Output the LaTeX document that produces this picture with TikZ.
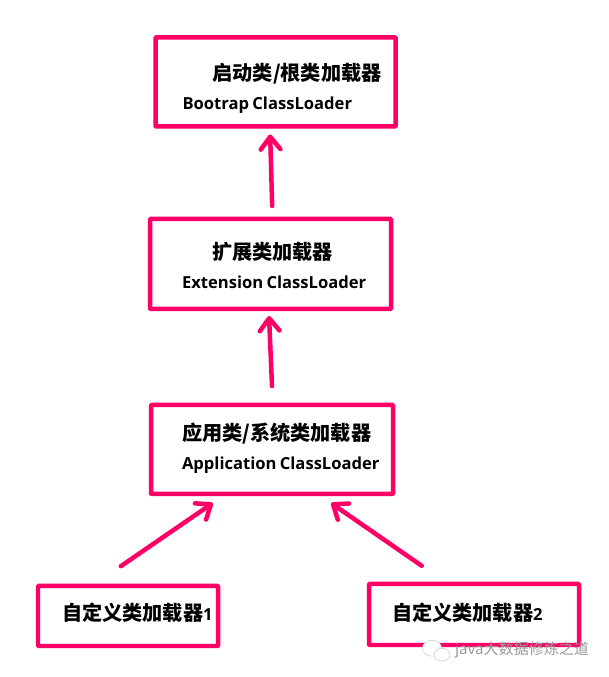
\documentclass[tikz,border=0pt]{standalone}
\usepackage{fontspec}
\setmainfont{Open Sans}
\newfontfamily\cjk{Noto Sans CJK SC}
\usepackage{tikz}
\usetikzlibrary{arrows.meta, shapes.geometric}
\definecolor{hotpink}{HTML}{FF0066}
\tikzset{
    loaderbox/.style={draw=hotpink, line width=3.2pt, rounded corners=0.6pt, inner sep=0pt, outer sep=0pt, align=left},
    flowarrow/.style={draw=hotpink, line width=3.2pt, line cap=round, -{Straight Barb[length=9pt, width=14pt, round]}},
    cntext/.style={font=\cjk\bfseries\fontsize{14.35}{20.6}\selectfont},
}
\newcommand{\enlabel}[1]{{\normalfont\bfseries\fontsize{11.8}{20.6}\selectfont\spaceskip=0.2em\relax #1}}
\begin{document}
\begin{tikzpicture}
    \useasboundingbox (0, 0) rectangle (15.2, 16.925);

    \node[loaderbox, cntext, text width=6cm, text height=1.075cm, text depth=1.15cm] at (6.888, 14.875) (bootbox)
        {\hspace*{1.425cm}启动类/根类加载器\\\hspace*{0.675cm}\enlabel{Bootrap ClassLoader}};
    \node[loaderbox, cntext, text width=6.025cm, text height=1.025cm, text depth=1.225cm] at (6.763, 10.325) (extbox)
        {\hspace*{1.55cm}扩展类加载器\\\hspace*{0.8cm}\enlabel{Extension ClassLoader}};
    \node[loaderbox, cntext, text width=6.05cm, text height=0.9cm, text depth=1.325cm] at (6.8, 5.6875) (appbox)
        {\hspace*{0.775cm}应用类/系统类加载器\\\hspace*{0.775cm}\enlabel{Application ClassLoader}};
    \node[loaderbox, cntext, text width=4.5cm, text height=0.875cm, text depth=0.625cm] at (3.2, 1.525) (custombox1)
        {\hspace*{0.6cm}自定义类加载器\enlabel{1}};
    \node[loaderbox, cntext, text width=5.25cm, text height=0.925cm, text depth=0.6cm] at (11.85, 1.5625) (custombox2)
        {\hspace*{0.575cm}自定义类加载器\enlabel{2}};

    \draw [flowarrow, shorten <=0.325cm, shorten >=0.2cm] ([xshift=0.05cm]extbox.north) -- ([xshift=-0.14cm]bootbox.south);
    \draw [flowarrow, shorten <=0.475cm, shorten >=0.175cm] ([xshift=0.02cm]appbox.north) -- ([xshift=-0.045cm]extbox.south);
    \draw [flowarrow, shorten <=0.875cm, shorten >=0.4cm] ([xshift=-0.9cm]custombox1.north) -- ([xshift=-1.15cm]appbox.south);
    \draw [flowarrow, shorten <=0.8cm, shorten >=0.4cm] ([xshift=-0.65cm]custombox2.north) -- ([xshift=1.15cm]appbox.south);

    % watermark
    \node[text=gray!80, font=\cjk\fontsize{10.7}{14}\selectfont, inner sep=0pt] at (13.05, 0.68) (mark) {java大数据修炼之道};
    \draw[gray!40, fill=white, line width=0.4pt] (10.8, 0.72) ellipse (0.24 and 0.2);
    \draw[gray!40, fill=white, line width=0.4pt] (11.05, 0.56) ellipse (0.2 and 0.16);
\end{tikzpicture}
\end{document}
